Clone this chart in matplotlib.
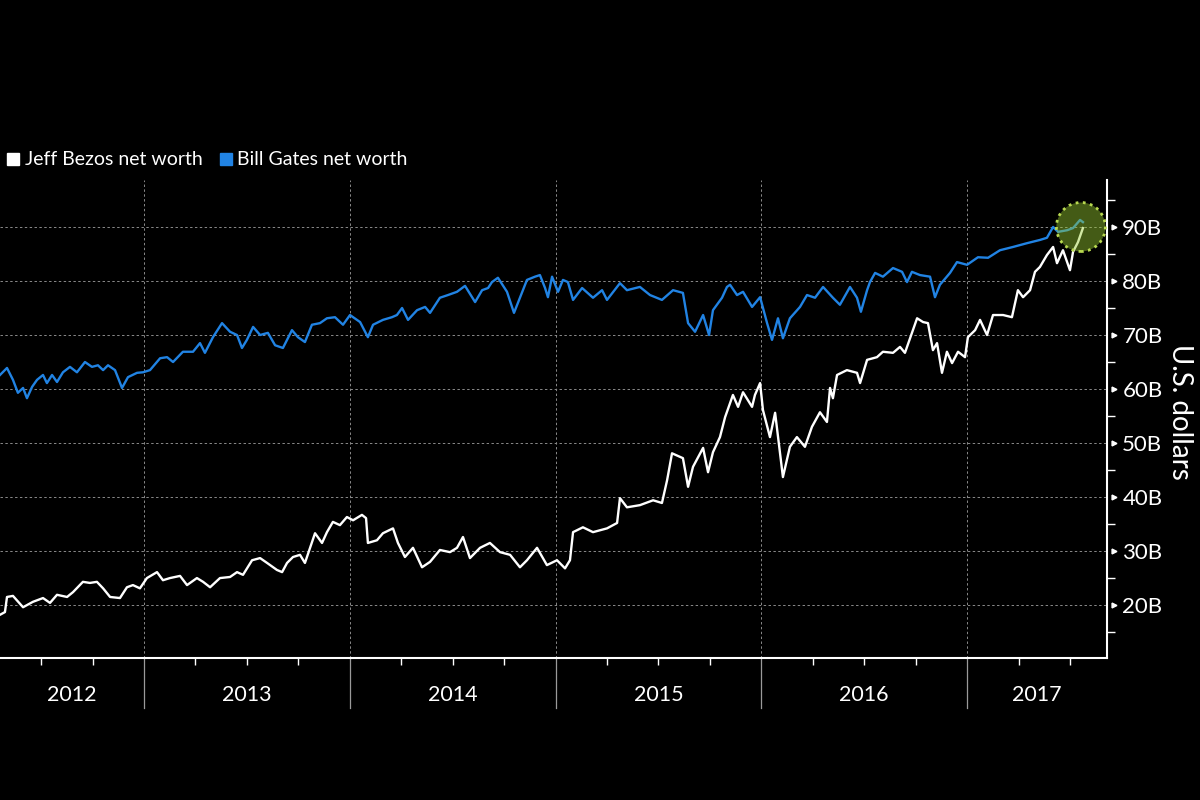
import matplotlib
matplotlib.use("Agg")
import matplotlib.pyplot as plt
from matplotlib.lines import Line2D
from matplotlib.patches import Circle
from matplotlib.transforms import ScaledTranslation, blended_transform_factory

# ── Data (decimal years, billions of USD) ─────────────────────────────────────

bezos_t = [
    2012.300, 2012.324, 2012.334, 2012.363, 2012.412, 2012.460, 2012.509, 2012.543,
    2012.577, 2012.626, 2012.655, 2012.703, 2012.737, 2012.771, 2012.801, 2012.835,
    2012.883, 2012.917, 2012.946, 2012.980, 2013.014, 2013.063, 2013.092, 2013.126,
    2013.175, 2013.209, 2013.257, 2013.287, 2013.321, 2013.369, 2013.418, 2013.452,
    2013.481, 2013.525, 2013.564, 2013.598, 2013.646, 2013.671, 2013.695, 2013.724,
    2013.758, 2013.782, 2013.807, 2013.831, 2013.865, 2013.889, 2013.918, 2013.952,
    2013.986, 2014.016, 2014.059, 2014.079, 2014.088, 2014.132, 2014.161, 2014.210,
    2014.234, 2014.268, 2014.307, 2014.351, 2014.390, 2014.438, 2014.487, 2014.521,
    2014.550, 2014.584, 2014.633, 2014.681, 2014.730, 2014.779, 2014.827, 2014.861,
    2014.910, 2014.958, 2015.007, 2015.046, 2015.070, 2015.085, 2015.133, 2015.182,
    2015.250, 2015.299, 2015.313, 2015.347, 2015.410, 2015.474, 2015.517, 2015.542,
    2015.566, 2015.619, 2015.644, 2015.668, 2015.717, 2015.741, 2015.765, 2015.799,
    2015.824, 2015.862, 2015.887, 2015.911, 2015.955, 2015.969, 2015.994, 2016.008,
    2016.042, 2016.067, 2016.091, 2016.105, 2016.139, 2016.173, 2016.212, 2016.246,
    2016.285, 2016.319, 2016.334, 2016.348, 2016.368, 2016.416, 2016.465, 2016.480,
    2016.514, 2016.562, 2016.591, 2016.640, 2016.674, 2016.698, 2016.732, 2016.757,
    2016.786, 2016.810, 2016.834, 2016.854, 2016.878, 2016.902, 2016.927, 2016.956,
    2016.990, 2017.004, 2017.039, 2017.063, 2017.097, 2017.126, 2017.175, 2017.218,
    2017.247, 2017.272, 2017.306, 2017.330, 2017.354, 2017.388, 2017.418, 2017.437,
    2017.466, 2017.500, 2017.515, 2017.539, 2017.563,
]
bezos_v = [
    18.2, 18.7, 21.5, 21.7, 19.6, 20.6, 21.3, 20.4,
    21.9, 21.5, 22.4, 24.3, 24.1, 24.3, 23.1, 21.5,
    21.3, 23.3, 23.7, 23.1, 25.0, 26.1, 24.6, 25.0,
    25.4, 23.7, 25.0, 24.3, 23.3, 25.0, 25.2, 26.1,
    25.6, 28.3, 28.7, 27.8, 26.5, 26.1, 27.8, 28.9,
    29.3, 27.8, 30.6, 33.3, 31.5, 33.5, 35.4, 34.8,
    36.3, 35.7, 36.7, 36.1, 31.5, 32.0, 33.3, 34.2,
    31.5, 28.9, 30.6, 27.0, 28.0, 30.2, 29.8, 30.6,
    32.6, 28.7, 30.6, 31.5, 29.8, 29.3, 27.0, 28.3,
    30.6, 27.4, 28.3, 26.8, 28.3, 33.5, 34.4, 33.5,
    34.2, 35.2, 39.8, 38.1, 38.5, 39.4, 38.9, 43.1,
    48.1, 47.2, 41.9, 45.6, 49.1, 44.6, 48.3, 51.1,
    54.8, 58.9, 56.7, 59.4, 56.7, 58.9, 61.1, 56.1,
    51.1, 55.6, 48.1, 43.7, 49.3, 51.1, 49.3, 53.0,
    55.7, 53.9, 60.2, 58.3, 62.6, 63.5, 63.0, 61.1,
    65.4, 65.9, 66.9, 66.7, 67.8, 66.7, 70.4, 73.1,
    72.4, 72.2, 67.2, 68.5, 63.0, 66.9, 64.8, 66.9,
    65.9, 69.6, 70.9, 72.8, 70.0, 73.7, 73.7, 73.3,
    78.3, 77.0, 78.3, 81.7, 82.6, 84.8, 86.3, 83.3,
    85.7, 82.0, 85.4, 87.2, 89.8,
]

gates_t = [
    2012.300, 2012.334, 2012.363, 2012.387, 2012.412, 2012.431, 2012.456, 2012.480,
    2012.509, 2012.528, 2012.553, 2012.577, 2012.606, 2012.640, 2012.674, 2012.713,
    2012.747, 2012.776, 2012.801, 2012.825, 2012.859, 2012.893, 2012.922, 2012.966,
    2012.995, 2013.029, 2013.078, 2013.112, 2013.141, 2013.189, 2013.238, 2013.272,
    2013.296, 2013.335, 2013.379, 2013.418, 2013.452, 2013.476, 2013.500, 2013.530,
    2013.564, 2013.602, 2013.637, 2013.675, 2013.719, 2013.748, 2013.782, 2013.816,
    2013.855, 2013.889, 2013.928, 2013.967, 2014.001, 2014.050, 2014.088, 2014.113,
    2014.161, 2014.205, 2014.229, 2014.254, 2014.283, 2014.327, 2014.366, 2014.390,
    2014.438, 2014.477, 2014.521, 2014.560, 2014.609, 2014.643, 2014.672, 2014.691,
    2014.720, 2014.764, 2014.798, 2014.827, 2014.861, 2014.900, 2014.924, 2014.949,
    2014.963, 2014.983, 2015.012, 2015.036, 2015.060, 2015.085, 2015.129, 2015.182,
    2015.226, 2015.250, 2015.313, 2015.347, 2015.410, 2015.459, 2015.517, 2015.571,
    2015.619, 2015.644, 2015.678, 2015.717, 2015.746, 2015.765, 2015.809, 2015.833,
    2015.848, 2015.882, 2015.911, 2015.955, 2015.994, 2016.028, 2016.052, 2016.081,
    2016.105, 2016.139, 2016.188, 2016.222, 2016.261, 2016.300, 2016.348, 2016.382,
    2016.431, 2016.465, 2016.484, 2016.514, 2016.528, 2016.553, 2016.591, 2016.640,
    2016.684, 2016.708, 2016.732, 2016.771, 2016.820, 2016.844, 2016.868, 2016.917,
    2016.951, 2017.000, 2017.053, 2017.102, 2017.160, 2017.223, 2017.291, 2017.354,
    2017.388, 2017.418, 2017.442, 2017.486, 2017.515, 2017.549, 2017.563,
]
gates_v = [
    62.6, 63.9, 61.7, 59.3, 60.2, 58.3, 60.4, 61.7,
    62.6, 61.1, 62.6, 61.3, 63.1, 64.1, 63.1, 65.0,
    64.1, 64.4, 63.5, 64.4, 63.5, 60.2, 62.2, 63.0,
    63.1, 63.5, 65.7, 65.9, 65.0, 66.9, 66.9, 68.5,
    66.7, 69.6, 72.2, 70.6, 70.0, 67.6, 69.1, 71.5,
    70.0, 70.4, 68.1, 67.6, 70.9, 69.6, 68.7, 71.9,
    72.2, 73.1, 73.3, 71.9, 73.7, 72.4, 69.6, 71.9,
    72.8, 73.3, 73.7, 75.0, 72.8, 74.6, 75.2, 74.1,
    76.9, 77.4, 78.0, 79.1, 76.1, 78.3, 78.7, 79.8,
    80.6, 78.0, 74.1, 76.9, 80.2, 80.8, 81.1, 78.7,
    77.0, 80.8, 78.0, 80.2, 79.8, 76.5, 78.7, 76.9,
    78.3, 76.5, 79.6, 78.3, 78.9, 77.4, 76.5, 78.3,
    77.8, 72.2, 70.6, 73.7, 70.0, 74.6, 76.9, 78.9,
    79.3, 77.4, 78.0, 75.2, 77.0, 72.2, 69.1, 73.1,
    69.4, 73.1, 75.2, 77.4, 76.9, 78.9, 76.9, 75.6,
    78.9, 76.9, 74.3, 78.3, 79.8, 81.5, 80.8, 82.4,
    81.7, 79.8, 81.7, 81.1, 80.8, 77.0, 79.3, 81.5,
    83.5, 83.0, 84.4, 84.3, 85.7, 86.3, 87.0, 87.6,
    88.0, 90.0, 89.1, 89.4, 89.8, 91.3, 90.9,
]

years = [2012, 2013, 2014, 2015, 2016, 2017]
y_ticks = [20, 30, 40, 50, 60, 70, 80, 90]
y_minor = [15, 25, 35, 45, 55, 65, 75, 85, 95]
labels = ["Jeff Bezos net worth", "Bill Gates net worth"]

BG = "black"
FG = "white"
BLUE = "#2183e3"
GRID = "#8a8a8a"
FONT = ["Lato", "DejaVu Sans"]

plt.rcParams["font.family"] = FONT

fig = plt.figure(figsize=(12, 8), dpi=100, facecolor=BG)
ax = fig.add_axes([0.0, 0.1775, 0.9225, 0.5975], facecolor=BG)

x0, x1 = 2012.300, 2017.680
ax.set_xlim(x0, x1)
ax.set_ylim(10.2, 98.7)

ax.plot(gates_t, gates_v, color=BLUE, lw=1.7, zorder=3, solid_joinstyle="round")
ax.plot(bezos_t, bezos_v, color=FG, lw=1.7, zorder=4, solid_joinstyle="round")

# grid
for yv in y_ticks:
    ax.axhline(yv, color=GRID, lw=0.7, ls=(0, (2.5, 2.5)), zorder=1)
for yr in years[1:]:
    ax.axvline(yr, color=GRID, lw=0.7, ls=(0, (2.5, 2.5)), zorder=1)

# spines
for s in ("left", "top"):
    ax.spines[s].set_visible(False)
ax.spines["bottom"].set_color(FG)
ax.spines["bottom"].set_linewidth(1.5)
ax.spines["right"].set_color(FG)
ax.spines["right"].set_linewidth(1.5)

# x axis: quarterly minor ticks, year separators and centred year labels
quarters = [y + q for y in range(2012, 2018) for q in (0.25, 0.5, 0.75)]
ax.set_xticks([q for q in quarters if x0 < q < x1], minor=True)
ax.set_xticks([])
ax.tick_params(axis="x", which="minor", direction="out", length=5, width=1, colors=FG)

trans = blended_transform_factory(ax.transData, ax.transAxes)
for yr in years[1:]:
    ax.plot([yr, yr], [0, -0.105], transform=trans, color="#9a9a9a", lw=0.9, clip_on=False)
for yr in years:
    lo, hi = max(yr, x0), min(yr + 1, x1)
    ax.text((lo + hi) / 2, -0.078, str(yr), transform=trans, ha="center", va="center",
            color=FG, fontsize=15.5)

# y axis on the right
ax.yaxis.tick_right()
ax.set_yticks(y_ticks)
ax.set_yticklabels([f"{v}B" for v in y_ticks])
ax.set_yticks(y_minor, minor=True)
ax.tick_params(axis="y", which="major", length=0, pad=11, labelsize=16, labelcolor=FG)
ax.tick_params(axis="y", which="minor", direction="out", length=6, width=1, colors=FG)
ytrans = blended_transform_factory(ax.transAxes, ax.transData)
ax.plot([1.006] * len(y_ticks), y_ticks, ls="none", marker=">", ms=3.5, color=FG,
        transform=ytrans, clip_on=False)
fig.text(0.983, 0.485, "U.S. dollars", rotation=-90, ha="center", va="center",
         color=FG, fontsize=20)

# legend
handles = [
    Line2D([], [], ls="none", marker="s", ms=9, color=FG),
    Line2D([], [], ls="none", marker="s", ms=9, color=BLUE),
]
ax.legend(handles, labels, loc="lower left", bbox_to_anchor=(-0.004, 1.0), ncol=2,
          frameon=False, handlelength=0.6, handletextpad=0.3, columnspacing=0.9,
          labelcolor=FG, fontsize=14, borderaxespad=0.2)

# highlight circle where Bezos passes Gates
center = ScaledTranslation(bezos_t[-1] - 0.01, 90.0, ax.transData)
ring = Circle((0, 0), radius=0.245, transform=fig.dpi_scale_trans + center,
              facecolor=(0.60, 0.80, 0.20, 0.45), edgecolor="#b8d850",
              lw=2, ls=(0, (1, 1.6)), zorder=6, clip_on=False)
ax.add_patch(ring)

fig.savefig("out.png", dpi=100, facecolor=BG)
